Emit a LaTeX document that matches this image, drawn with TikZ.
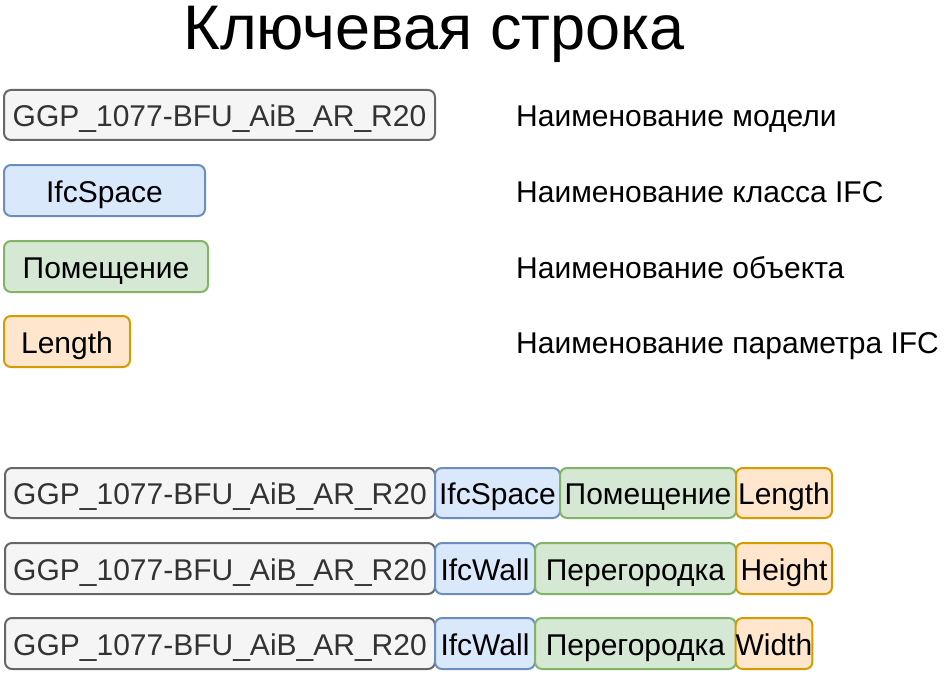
\documentclass[tikz,border=0pt]{standalone}
\usepackage{fontspec}
\setmainfont{Liberation Sans}
\definecolor{grayfill}{HTML}{F5F5F5}
\definecolor{graydraw}{HTML}{666666}
\definecolor{graytext}{HTML}{333333}
\definecolor{bluefill}{HTML}{DAE8FC}
\definecolor{bluedraw}{HTML}{6C8EBF}
\definecolor{greenfill}{HTML}{D5E8D4}
\definecolor{greendraw}{HTML}{82B366}
\definecolor{orangefill}{HTML}{FFE6CC}
\definecolor{orangedraw}{HTML}{D79B00}
\begin{document}
\begin{tikzpicture}[x=1pt,y=-1pt,
  box/.style={draw, line width=2pt, rounded corners=7pt, inner sep=0pt, outer sep=0pt,
    font=\fontsize{30}{34}\selectfont, text=black, text height=25pt, text depth=2pt},
  graybox/.style={box, fill=grayfill, draw=graydraw, text=graytext},
  bluebox/.style={box, fill=bluefill, draw=bluedraw},
  greenbox/.style={box, fill=greenfill, draw=greendraw},
  orangebox/.style={box, fill=orangefill, draw=orangedraw},
  legend/.style={anchor=base west, inner sep=0pt, font=\fontsize{30}{34}\selectfont},
  title/.style={anchor=base, font=\fontsize{63}{70}\selectfont, inner sep=0pt}
]
\path[use as bounding box] (0,0) rectangle (950,682);

\node[title] (title) at (434,50) {Ключевая строка};

% legend boxes
\node[graybox, minimum width=431, minimum height=50] (g0) at (219.5,115) {GGP\_1077-BFU\_AiB\_AR\_R20};
\node[bluebox, minimum width=201, minimum height=51] (b0) at (104.5,190.5) {IfcSpace};
\node[greenbox, minimum width=204, minimum height=51] (n0) at (106,266.5) {Помещение};
\node[orangebox, minimum width=126, minimum height=51] (o0) at (67,341.5) {Length};

\node[legend] (l1) at (516,127) {Наименование модели};
\node[legend] (l2) at (516,202) {Наименование класса IFC};
\node[legend] (l3) at (516,278) {Наименование объекта};
\node[legend] (l4) at (516,353) {Наименование параметра IFC};

% row 1
\node[graybox, minimum width=430, minimum height=50] (g1) at (220,493) {GGP\_1077-BFU\_AiB\_AR\_R20};
\node[bluebox, minimum width=125, minimum height=50] (b1) at (497.5,493) {IfcSpace};
\node[greenbox, minimum width=176, minimum height=50] (n1) at (648,493) {Помещение};
\node[orangebox, minimum width=96, minimum height=50] (o1) at (784,493) {Length};

% row 2
\node[graybox, minimum width=430, minimum height=51] (g2) at (220,568.5) {GGP\_1077-BFU\_AiB\_AR\_R20};
\node[bluebox, minimum width=100, minimum height=51] (b2) at (485,568.5) {IfcWall};
\node[greenbox, minimum width=201, minimum height=51] (n2) at (635.5,568.5) {Перегородка};
\node[orangebox, minimum width=96, minimum height=51] (o2) at (784,568.5) {Height};

% row 3
\node[graybox, minimum width=430, minimum height=51] (g3) at (220,643.5) {GGP\_1077-BFU\_AiB\_AR\_R20};
\node[bluebox, minimum width=100, minimum height=51] (b3) at (485,643.5) {IfcWall};
\node[greenbox, minimum width=201, minimum height=51] (n3) at (635.5,643.5) {Перегородка};
\node[orangebox, minimum width=76, minimum height=51] (o3) at (774,643.5) {Width};
\end{tikzpicture}
\end{document}
